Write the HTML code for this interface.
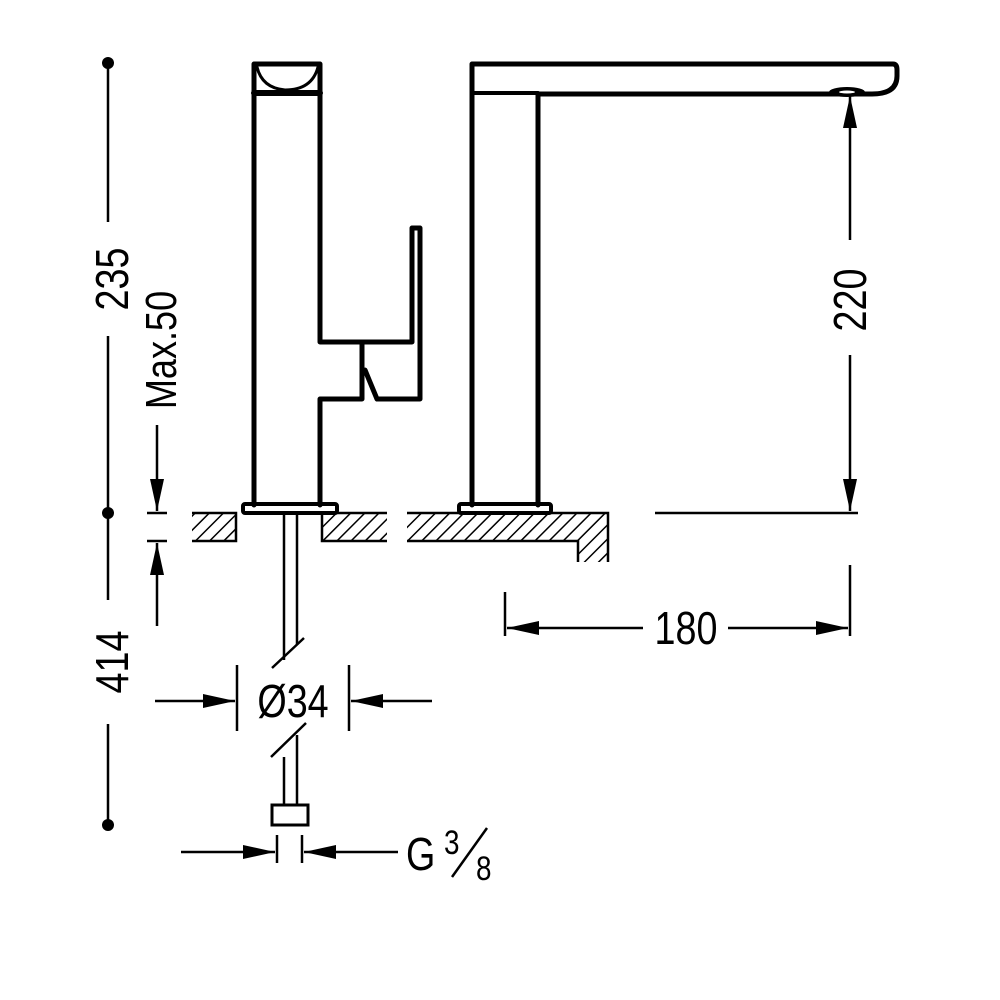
<!DOCTYPE html>
<html><head><style>body{margin:0;background:#fff}svg{display:block}text{font-family:"Liberation Sans",sans-serif;fill:#000}</style></head>
<body>
<svg width="1000" height="1000" viewBox="0 0 1000 1000" xmlns="http://www.w3.org/2000/svg">
<defs>
<pattern id="h" patternUnits="userSpaceOnUse" width="10" height="10" patternTransform="rotate(45)">
<line x1="0" y1="0" x2="0" y2="10" stroke="#000" stroke-width="3"/>
</pattern>
<marker id="a" viewBox="0 0 32 14" refX="32" refY="7" markerWidth="32" markerHeight="14" markerUnits="userSpaceOnUse" orient="auto"><path d="M0,0 L32,7 L0,14z"/></marker>
</defs>
<g fill="none" stroke="#000" stroke-width="5" stroke-linejoin="round" stroke-linecap="round">
<path d="M254,505 V64 H320 V342 H412 V228 H420 V399 H377 L365,370 M362,342 V399 H320 V505"/>
<path d="M254,93 H320" stroke-width="6"/>
<path d="M257,67 Q262,88 285,90 Q312,90 318,67" stroke-width="3"/>
<rect x="243" y="504" width="94" height="9" rx="2" stroke-width="4"/>
<rect x="459" y="504" width="92" height="9" rx="2" stroke-width="4"/>
<path d="M472,505 V64 H893 Q897,64 897,70 V76 Q897,94 872,94 H538 V505"/>
<path d="M472,93 H538" stroke-width="4"/>
<ellipse cx="847" cy="92" rx="18" ry="5" fill="#000" stroke="none"/>
<ellipse cx="847" cy="92" rx="8" ry="1.5" fill="#fff" stroke="none"/>
</g>
<g stroke="#000" stroke-width="2">
<rect x="192" y="513" width="44" height="28" fill="url(#h)" stroke="none"/>
<rect x="322" y="513" width="65" height="28" fill="url(#h)" stroke="none"/>
<path d="M407,513 H608 V562 H578 V541 H407 Z" fill="url(#h)" stroke="none"/>
<path d="M192,513 H236 V541 H192 M387,513 H322 V541 H387 M407,513 H608 V562 M578,562 V541 H407" fill="none" stroke-width="2.5"/>
</g>
<g stroke="#000" stroke-width="2.5" fill="none">
<path d="M284,514 V660 M297,514 V645 M284,757 V805 M297,735 V805"/>
<path d="M272,668 L304,638 M271,757 L306,723"/>
<rect x="272" y="805" width="36" height="20" stroke-width="3"/>
</g>
<g stroke="#000" stroke-width="2.5" fill="none">
<line x1="108" y1="62" x2="108" y2="222"/>
<line x1="108" y1="336" x2="108" y2="600"/>
<line x1="108" y1="724" x2="108" y2="825"/>
<line x1="157" y1="425" x2="157" y2="511" marker-end="url(#a)"/>
<line x1="147" y1="513" x2="167" y2="513"/>
<line x1="147" y1="541" x2="167" y2="541"/>
<line x1="157" y1="626" x2="157" y2="543" marker-end="url(#a)"/>
<line x1="850" y1="240" x2="850" y2="96" marker-end="url(#a)"/>
<line x1="850" y1="355" x2="850" y2="511" marker-end="url(#a)"/>
<line x1="655" y1="513" x2="858" y2="513"/>
<line x1="505" y1="592" x2="505" y2="636"/>
<line x1="850" y1="565" x2="850" y2="636"/>
<line x1="643" y1="628" x2="507" y2="628" marker-end="url(#a)"/>
<line x1="728" y1="628" x2="848" y2="628" marker-end="url(#a)"/>
<line x1="237" y1="665" x2="237" y2="731"/>
<line x1="349" y1="665" x2="349" y2="731"/>
<line x1="155" y1="701" x2="235" y2="701" marker-end="url(#a)"/>
<line x1="432" y1="701" x2="351" y2="701" marker-end="url(#a)"/>
<line x1="277" y1="835" x2="277" y2="863"/>
<line x1="302" y1="835" x2="302" y2="863"/>
<line x1="181" y1="852" x2="275" y2="852" marker-end="url(#a)"/>
<line x1="398" y1="852" x2="304" y2="852" marker-end="url(#a)"/>
</g>
<g fill="#000"><circle cx="108" cy="63" r="6"/><circle cx="108" cy="513" r="6"/><circle cx="108" cy="825" r="6"/></g>
<g font-size="46">
<text transform="translate(128,279) rotate(-90) scale(0.82,1)" text-anchor="middle">235</text>
<text transform="translate(128,662) rotate(-90) scale(0.82,1)" text-anchor="middle">414</text>
<text transform="translate(176,350) rotate(-90) scale(0.82,1)" text-anchor="middle" font-size="44">Max.50</text>
<text transform="translate(866,300) rotate(-90) scale(0.82,1)" text-anchor="middle">220</text>
<text transform="translate(686,644) scale(0.82,1)" text-anchor="middle">180</text>
<text transform="translate(293,717) scale(0.82,1)" text-anchor="middle">Ø34</text>
<text transform="translate(406,870) scale(0.82,1)">G</text>
<text transform="translate(444,854) scale(0.82,1)" font-size="34">3</text>
<text transform="translate(476,880) scale(0.82,1)" font-size="34">8</text>
</g>
<line x1="452" y1="877" x2="487" y2="828" stroke="#000" stroke-width="2.5"/>
</svg>
</body></html>
